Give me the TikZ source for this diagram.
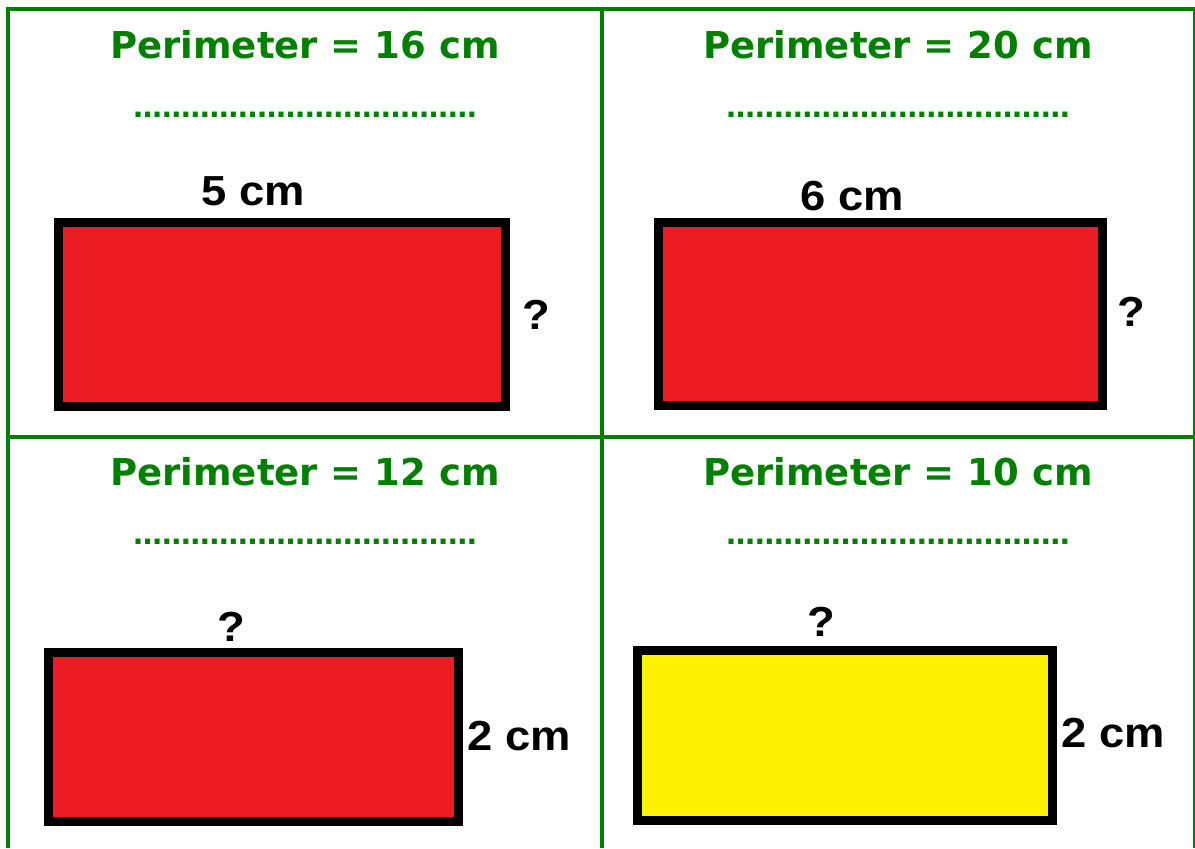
\documentclass[tikz,border=0pt]{standalone}
\usepackage{fontspec}
\setmainfont{DejaVu Sans}
\newfontfamily\labelfont{Liberation Sans}
\usetikzlibrary{positioning}
\definecolor{cardGreen}{RGB}{0,128,0}
\definecolor{shapeRed}{RGB}{237,28,36}
\definecolor{shapeYellow}{RGB}{255,242,0}

\begin{document}
\begin{tikzpicture}[x=0.5pt,y=-0.5pt,
    pertitle/.style={cardGreen,font=\fontsize{18.5}{22}\selectfont\bfseries},
    answerline/.style={cardGreen,font=\fontsize{14.3}{17}\selectfont\bfseries},
    sidelabel/.style={font=\labelfont\fontsize{21}{24}\selectfont\bfseries,xscale=1.08},
    figbox/.style={draw=black,line width=4.5pt}]
    \useasboundingbox (0,0) rectangle (1195,848);
    % card grid
    \draw[cardGreen,line width=2pt] (8,848) -- (8,9) -- (1195,9);
    \draw[cardGreen,line width=0.6pt] (1194,9) -- (1194,848);
    \draw[cardGreen,line width=2pt] (602,9) -- (602,848);
    \draw[cardGreen,line width=2pt] (8,437) -- (1195,437);
    % titles and answer lines
    \foreach \cx/\cy/\per [count=\i] in {
      305/45/16,
      898/45/20,
      305/472/12,
      898/472/10} {
        \node[pertitle] (per\i) at (\cx,\cy) {Perimeter = \per\ cm};
        \node[answerline] (ans\i) at (\cx,\cy+70) {……%
          ……%
          ……%
          ……%
          ……%
          ……};
    }
    % rectangles
    \draw[figbox,fill=shapeRed] (58.5,222.5) rectangle (505.5,406.5);
    \draw[figbox,fill=shapeRed] (658.5,222.5) rectangle (1102.5,405.5);
    \draw[figbox,fill=shapeRed] (48.5,652.5) rectangle (458.5,821.5);
    \draw[figbox,fill=shapeYellow] (637.5,650.5) rectangle (1052.5,820.5);
    % side labels
    \node[sidelabel] (topA) at (253,191) {5 cm};
    \node[sidelabel] (sideA) at (536,315) {?};
    \node[sidelabel] (topB) at (852,196) {6 cm};
    \node[sidelabel] (sideB) at (1131,312) {?};
    \node[sidelabel] (topC) at (231,627) {?};
    \node[sidelabel] (sideC) at (519,736) {2 cm};
    \node[sidelabel] (topD) at (821,622) {?};
    \node[sidelabel] (sideD) at (1113,733) {2 cm};
\end{tikzpicture}
\end{document}
